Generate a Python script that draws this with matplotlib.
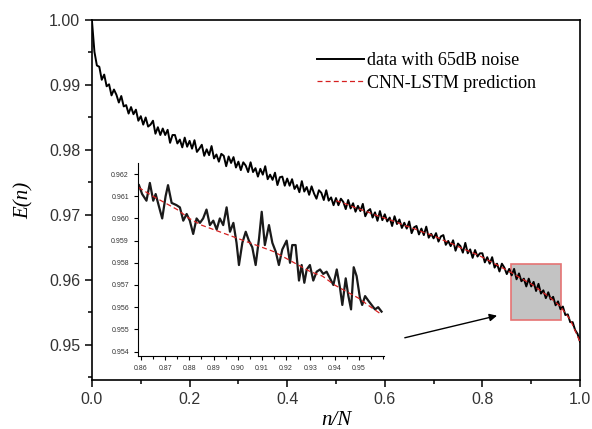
import numpy as np
import matplotlib
matplotlib.use("Agg")
import matplotlib.pyplot as plt
from matplotlib.patches import Rectangle
from matplotlib.ticker import MultipleLocator

# ---- data ----
# noisy energy curve, sampled every 0.005 in n/N
n_over_N = np.round(np.arange(0, 201) * 0.005, 3)
energy = [
    0.9998, 0.9951, 0.9930, 0.9928, 0.9908, 0.9916, 0.9898, 0.9901, 0.9884, 0.9893,
    0.9885, 0.9873, 0.9883, 0.9867, 0.9869, 0.9856, 0.9866, 0.9855, 0.9862, 0.9845,
    0.9852, 0.9839, 0.9850, 0.9836, 0.9839, 0.9845, 0.9825, 0.9835, 0.9823, 0.9833,
    0.9823, 0.9831, 0.9811, 0.9823, 0.9823, 0.9810, 0.9816, 0.9804, 0.9819, 0.9805,
    0.9814, 0.9802, 0.9815, 0.9797, 0.9802, 0.9808, 0.9791, 0.9801, 0.9792, 0.9806,
    0.9787, 0.9793, 0.9782, 0.9794, 0.9791, 0.9775, 0.9790, 0.9780, 0.9789, 0.9773,
    0.9782, 0.9769, 0.9781, 0.9776, 0.9766, 0.9781, 0.9766, 0.9772, 0.9759, 0.9771,
    0.9762, 0.9775, 0.9755, 0.9762, 0.9754, 0.9765, 0.9746, 0.9758, 0.9759, 0.9745,
    0.9756, 0.9745, 0.9755, 0.9740, 0.9746, 0.9735, 0.9752, 0.9736, 0.9743, 0.9731,
    0.9744, 0.9733, 0.9725, 0.9738, 0.9734, 0.9723, 0.9738, 0.9722, 0.9727, 0.9715,
    0.9726, 0.9715, 0.9725, 0.9720, 0.9709, 0.9723, 0.9710, 0.9718, 0.9705, 0.9714,
    0.9706, 0.9717, 0.9698, 0.9706, 0.9709, 0.9696, 0.9704, 0.9691, 0.9706, 0.9692,
    0.9701, 0.9690, 0.9696, 0.9683, 0.9698, 0.9686, 0.9693, 0.9680, 0.9688, 0.9679,
    0.9690, 0.9672, 0.9681, 0.9683, 0.9670, 0.9679, 0.9669, 0.9682, 0.9665, 0.9671,
    0.9664, 0.9672, 0.9659, 0.9667, 0.9669, 0.9654, 0.9660, 0.9652, 0.9661, 0.9645,
    0.9656, 0.9652, 0.9642, 0.9657, 0.9641, 0.9647, 0.9634, 0.9646, 0.9636, 0.9641,
    0.9641, 0.9627, 0.9635, 0.9625, 0.9635, 0.9619, 0.9625, 0.9613, 0.9625, 0.9619,
    0.9609, 0.9617, 0.9607, 0.9617, 0.9601, 0.9610, 0.9598, 0.9602, 0.9590, 0.9602,
    0.9590, 0.9597, 0.9583, 0.9594, 0.9579, 0.9584, 0.9572, 0.9581, 0.9570, 0.9574,
    0.9561, 0.9567, 0.9555, 0.9559, 0.9546, 0.9547, 0.9535, 0.9535, 0.9523, 0.9517,
    0.9505,
]

# CNN-LSTM prediction on the test part
pred_x = [0.50, 0.52, 0.54, 0.56, 0.58, 0.60, 0.62, 0.64, 0.66, 0.68, 0.70, 0.72, 0.74,
          0.76, 0.78, 0.80, 0.82, 0.84, 0.86, 0.88, 0.90, 0.92, 0.94, 0.96, 0.98, 1.00]
pred_y = [0.9722, 0.9717, 0.9711, 0.9706, 0.9700, 0.9695, 0.9690, 0.9684, 0.9679,
          0.9673, 0.9668, 0.9661, 0.9655, 0.9648, 0.9642, 0.9635, 0.9627, 0.9619,
          0.9611, 0.9602, 0.9594, 0.9583, 0.9572, 0.9559, 0.9539, 0.9505]

# zoomed-in detail
inset_x = [0.8592, 0.8605, 0.8623, 0.8637, 0.8651, 0.8661, 0.8678, 0.8688, 0.8702, 0.8712,
           0.8727, 0.8747, 0.8761, 0.8775, 0.8789, 0.8802, 0.8816, 0.8830, 0.8844, 0.8857,
           0.8871, 0.8885, 0.8899, 0.8913, 0.8926, 0.8940, 0.8954, 0.8968, 0.8982, 0.8995,
           0.9005, 0.9019, 0.9033, 0.9046, 0.9060, 0.9074, 0.9088, 0.9099, 0.9112, 0.9129,
           0.9143, 0.9157, 0.9170, 0.9184, 0.9202, 0.9216, 0.9225, 0.9239, 0.9253, 0.9264,
           0.9275, 0.9285, 0.9298, 0.9312, 0.9326, 0.9340, 0.9353, 0.9367, 0.9381, 0.9395,
           0.9409, 0.9422, 0.9432, 0.9446, 0.9457, 0.9468, 0.9479, 0.9491, 0.9505, 0.9514,
           0.9526, 0.9539, 0.9553, 0.9567, 0.9580, 0.9594]
inset_y = [0.9615, 0.9611, 0.9608, 0.9616, 0.9608, 0.9611, 0.9604, 0.9600, 0.9610, 0.9615,
           0.9607, 0.9606, 0.9605, 0.9599, 0.9602, 0.9599, 0.9593, 0.9600, 0.9598, 0.9600,
           0.9604, 0.9597, 0.9599, 0.9595, 0.9600, 0.9597, 0.9605, 0.9594, 0.9598, 0.9589,
           0.9579, 0.9589, 0.9594, 0.9590, 0.9587, 0.9579, 0.9591, 0.9603, 0.9588, 0.9597,
           0.9589, 0.9585, 0.9579, 0.9586, 0.9590, 0.9580, 0.9588, 0.9588, 0.9572, 0.9579,
           0.9571, 0.9577, 0.9579, 0.9572, 0.9576, 0.9577, 0.9575, 0.9576, 0.9573, 0.9570,
           0.9577, 0.9569, 0.9561, 0.9573, 0.9565, 0.9559, 0.9578, 0.9574, 0.9564, 0.9561,
           0.9565, 0.9563, 0.9561, 0.9559, 0.9560, 0.9558]
inset_pred_x = [0.859, 0.865, 0.870, 0.875, 0.880, 0.885, 0.890, 0.895, 0.900, 0.905, 0.910,
                0.915, 0.920, 0.925, 0.930, 0.935, 0.940, 0.945, 0.950, 0.955, 0.959]
inset_pred_y = [0.9614, 0.9610, 0.9607, 0.9604, 0.9600, 0.9597, 0.9595, 0.9593, 0.9591,
                0.9589, 0.9587, 0.9585, 0.9582, 0.9579, 0.9576, 0.9574, 0.9570, 0.9567,
                0.9564, 0.9560, 0.9557]

zoom_box = (0.8588, 0.9604, 0.9538, 0.9625)   # x0, x1, y0, y1

# ---- figure ----
sans = "Liberation Sans"
serif = "Liberation Serif"
fig = plt.figure(figsize=(5.92, 4.29), dpi=100)
ax = fig.add_axes([0.1554, 0.1142, 0.8243, 0.8392])

ax.add_patch(Rectangle((zoom_box[0], zoom_box[2]), zoom_box[1] - zoom_box[0],
                       zoom_box[3] - zoom_box[2], facecolor="#c3c3c3",
                       edgecolor="#e57373", lw=1.2, zorder=1))
ax.plot(n_over_N, energy, color="black", lw=1.4, zorder=2, label="data with 65dB noise")
ax.plot(pred_x, pred_y, color="#d62020", lw=0.9, ls=(0, (4, 2.5)), zorder=3,
        label="CNN-LSTM prediction")

ax.annotate("", xy=(0.830, 0.9545), xytext=(0.641, 0.9511),
            arrowprops=dict(arrowstyle="-|>", color="black", lw=1.0,
                            mutation_scale=11, shrinkA=0, shrinkB=0))

ax.set_xlim(0, 1)
ax.set_ylim(0.9446, 1.0)
ax.xaxis.set_minor_locator(MultipleLocator(0.1))
ax.yaxis.set_minor_locator(MultipleLocator(0.005))
ax.set_xticks([0, 0.2, 0.4, 0.6, 0.8, 1.0], ["0.0", "0.2", "0.4", "0.6", "0.8", "1.0"])
ax.set_yticks([0.95, 0.96, 0.97, 0.98, 0.99, 1.00],
              ["0.95", "0.96", "0.97", "0.98", "0.99", "1.00"])
ax.tick_params(which="both", direction="out", top=False, right=False,
               labelsize=11.5, labelcolor="#333333", width=1.1)
ax.tick_params(which="major", length=5)
ax.tick_params(which="minor", length=3)
for lab in ax.get_xticklabels() + ax.get_yticklabels():
    lab.set_family(sans)
for s in ax.spines.values():
    s.set_linewidth(1.2)

ax.set_xlabel("n/N", fontsize=15, family=serif, style="italic", labelpad=3)
ax.set_ylabel("E(n)", fontsize=15, family=serif, style="italic", labelpad=11)

ax.legend(loc="upper left", bbox_to_anchor=(0.461, 0.910), frameon=False,
          borderpad=0, borderaxespad=0, handlelength=2.6, handletextpad=0.15,
          labelspacing=0.3, prop={"family": serif, "size": 13})

# ---- inset ----
ins = fig.add_axes([0.2331, 0.1702, 0.4155, 0.4499])
ins.patch.set_alpha(0)
ins.plot(inset_x, inset_y, color="#1a1a1a", lw=1.6)
ins.plot(inset_pred_x, inset_pred_y, color="#d62020", lw=0.9, ls=(0, (4, 2.5)))
ins.set_xlim(zoom_box[0], zoom_box[1])
ins.set_ylim(zoom_box[2], zoom_box[3])
ins.set_xticks(np.round(np.arange(0.86, 0.951, 0.01), 2))
ins.set_yticks(np.round(np.arange(0.954, 0.9621, 0.001), 3))
ins.xaxis.set_minor_locator(MultipleLocator(0.005))
ins.spines["top"].set_visible(False)
ins.spines["right"].set_visible(False)
ins.tick_params(which="both", direction="out", labelsize=5, labelcolor="#333333",
                width=0.8)
ins.tick_params(which="major", length=3)
ins.tick_params(which="minor", length=2)
for lab in ins.get_xticklabels() + ins.get_yticklabels():
    lab.set_family(sans)

fig.savefig("out.png", dpi=100)
